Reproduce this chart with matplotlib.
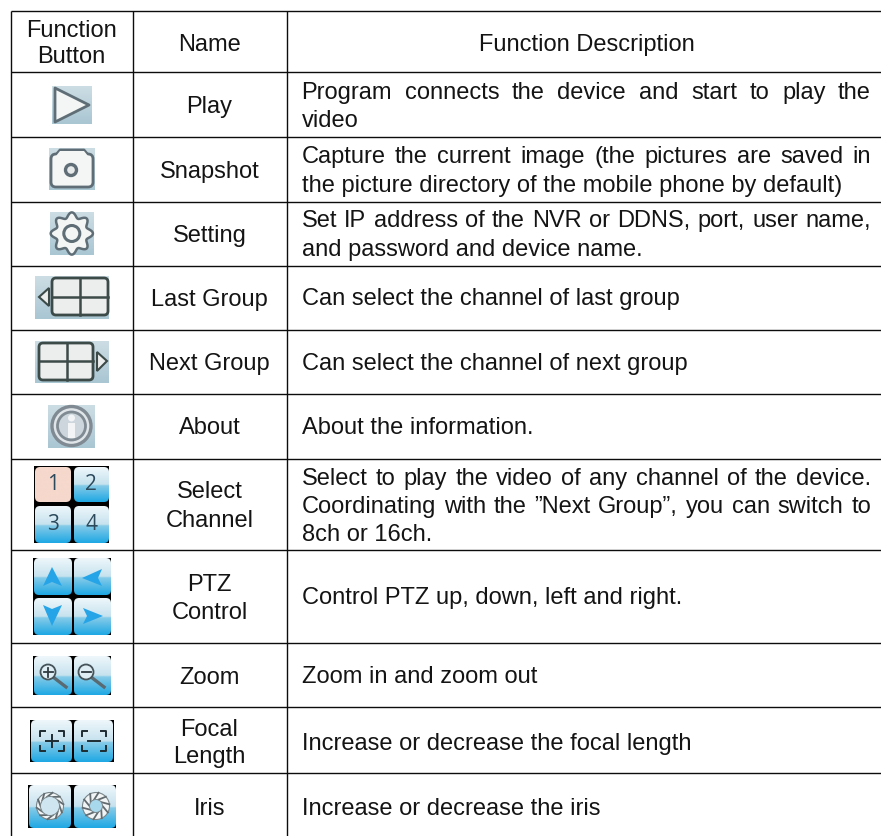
import numpy as np
import matplotlib
matplotlib.use('Agg')
import matplotlib.pyplot as plt
from matplotlib.patches import Rectangle, FancyBboxPatch, Polygon, Circle

plt.rcParams['font.family'] = ['Liberation Sans', 'DejaVu Sans']

W, H = 881, 836

# table contents
header = ['Function\nButton', 'Name', 'Function Description']
names = ['Play', 'Snapshot', 'Setting', 'Last Group', 'Next Group', 'About',
         'Select\nChannel', 'PTZ\nControl', 'Zoom', 'Focal\nLength', 'Iris']
descriptions = [
    ['Program connects the device and start to play the', 'video'],
    ['Capture the current image (the pictures are saved in', 'the picture directory of the mobile phone by default)'],
    ['Set IP address of the NVR or DDNS, port, user name,', 'and password and device name.'],
    ['Can select the channel of last group'],
    ['Can select the channel of next group'],
    ['About the information.'],
    ['Select to play the video of any channel of the device.', 'Coordinating with the \u201dNext Group\u201d, you can switch to', '8ch or 16ch.'],
    ['Control PTZ up, down, left and right.'],
    ['Zoom in and zoom out'],
    ['Increase or decrease the focal length'],
    ['Increase or decrease the iris'],
]

# layout, in pixels of the picture
col_x = [10.5, 132.5, 286.5]
row_y = [10.5, 72, 136.5, 201.5, 265.5, 329.5, 393.5, 458.5, 550, 642.5, 707, 773]
name_base = [[113], [177.7], [241.7], [305.7], [370], [434.3], [498, 526.7], [590.7, 619.3], [684], [735.7, 763], [815]]
desc_base = [[99, 127.3], [163.3, 191.7], [227.3, 255.7], [305.5], [370], [434], [485, 512.7, 540.7], [604.3], [683.3], [750], [815]]
text_l, text_r = 301.5, 871
fs = 17
tc = '#141414'

fig = plt.figure(figsize=(W / 100, H / 100), dpi=100)
ax = fig.add_axes([0, 0, 1, 1])
ax.set_xlim(0, W)
ax.set_ylim(H, 0)
ax.axis('off')

# no border on the right and at the bottom
for y in row_y:
    ax.plot([col_x[0], W], [y, y], color='#0c0c0c', lw=1.0, solid_capstyle='butt')
for x in col_x:
    ax.plot([x, x], [row_y[0], H], color='#0c0c0c', lw=1.0, solid_capstyle='butt')

ax.text(71.7, 36.7, 'Function', ha='center', va='baseline', fontsize=fs, color=tc)
ax.text(71.7, 63.3, 'Button', ha='center', va='baseline', fontsize=fs, color=tc)
ax.text(209.5, 50.7, header[1], ha='center', va='baseline', fontsize=fs, color=tc)
ax.text(586.5, 50.7, header[2], ha='center', va='baseline', fontsize=fs, color=tc)

r = fig.canvas.get_renderer()


def word_width(s):
    t = ax.text(0, 0, s, fontsize=fs)
    wd = t.get_window_extent(r).width
    t.remove()
    return wd


for i in range(len(names)):
    for line, yy in zip(names[i].split('\n'), name_base[i]):
        ax.text(209.5, yy, line, ha='center', va='baseline', fontsize=fs, color=tc)
    n = len(descriptions[i])
    for k, (line, yy) in enumerate(zip(descriptions[i], desc_base[i])):
        if k < n - 1:
            # justified, the last line of a cell is not
            words = line.split(' ')
            ws = [word_width(w) for w in words]
            gap = (text_r - text_l - sum(ws)) / (len(words) - 1)
            x = text_l
            for w, wd in zip(words, ws):
                ax.text(x, yy, w, ha='left', va='baseline', fontsize=fs, color=tc)
                x += wd + gap
        else:
            ax.text(text_l, yy, line, ha='left', va='baseline', fontsize=fs, color=tc)


def grad(x0, y0, x1, y1, stops, z=2.5, clip=None):
    pos = [s[0] for s in stops]
    cols = np.array([matplotlib.colors.to_rgb(s[1]) for s in stops])
    t = np.linspace(0, 1, 64)
    arr = np.stack([np.interp(t, pos, cols[:, c]) for c in range(3)], axis=1)[:, None, :]
    im = ax.imshow(arr, extent=(x0, x1, y1, y0), aspect='auto', zorder=z, interpolation='bilinear')
    if clip is not None:
        im.set_clip_path(clip)


def rrect(x0, y0, x1, y1, fc, ec, lw=1.5, rad=4, z=3):
    p = FancyBboxPatch((x0 + rad, y0 + rad), x1 - x0 - 2 * rad, y1 - y0 - 2 * rad,
                       boxstyle='round,pad=%f' % rad, fc=fc, ec=ec, lw=lw, zorder=z)
    ax.add_patch(p)
    return p


def bg(x0, y0, x1, y1):
    grad(x0, y0, x1, y1, [(0, '#cddde4'), (1, '#a9c6d3')], z=2)


def tile(x0, y0, x1, y1, plain=None):
    p = rrect(x0, y0, x1, y1, 'none', 'none', 0, 5, 3)
    if plain:
        grad(x0, y0, x1, y1, [(0, plain), (1, plain)], z=3, clip=p)
    else:
        grad(x0, y0, x1, y1, [(0, '#eef7fb'), (0.5, '#c6e2ee'), (0.53, '#86cbe8'), (1, '#1fa8e4')], z=3, clip=p)


edge = '#5f6e76'
dark = '#3c4a48'
white = '#f4f6f6'

# play
bg(52, 86, 92, 124)
ax.add_patch(Polygon([[55, 88], [89, 105], [55, 122]], closed=True, fc=white, ec=edge, lw=2, joinstyle='round', zorder=3))

# snapshot
bg(49, 148, 95, 190)
ax.add_patch(Polygon([[55, 156], [60, 150], [84, 150], [89, 156]], closed=True, fc=white, ec=edge, lw=2, joinstyle='round', zorder=3))
rrect(51, 154, 93, 187, white, edge, 2, 5, 3.1)
ax.add_patch(Polygon([[56, 156], [60, 151], [84, 151], [88, 156]], closed=True, fc=white, ec='none', zorder=3.2))
ax.add_patch(Circle((71, 170), 5.5, fc='#e6eaea', ec=edge, lw=2.4, zorder=4))

# setting
bg(50, 212, 94, 255)
th = np.linspace(0, 2 * np.pi, 241)
gr = 18.5 + 2.6 * np.cos(8 * th)
ax.add_patch(Polygon(np.c_[71.8 + gr * np.cos(th), 233.5 + gr * np.sin(th)], closed=True, fc=white, ec=edge, lw=1.8, zorder=3))
ax.add_patch(Circle((71.8, 233.5), 8, fc=white, ec=edge, lw=2.2, zorder=4))

# last group
bg(35, 276, 109, 319)
rrect(52, 278, 108, 315, '#eceeee', dark, 2, 4)
ax.plot([80, 80], [278, 315], color=dark, lw=1.8, zorder=4)
ax.plot([52, 108], [297, 297], color=dark, lw=1.8, zorder=4)
ax.add_patch(Polygon([[39, 297], [49, 288], [49, 306]], closed=True, fc='#eceeee', ec=dark, lw=1.5, zorder=4))

# next group
bg(35, 341, 109, 383)
rrect(39, 343, 93, 380, '#eceeee', dark, 2, 4)
ax.plot([67, 67], [343, 380], color=dark, lw=1.8, zorder=4)
ax.plot([39, 93], [361, 361], color=dark, lw=1.8, zorder=4)
ax.add_patch(Polygon([[107, 361], [97, 352], [97, 371]], closed=True, fc='#eceeee', ec=dark, lw=1.5, zorder=4))

# about
bg(48, 405, 95, 448)
ax.add_patch(Circle((71.5, 426), 19.5, fc='#dfe5e8', ec='#7f8a92', lw=2.4, zorder=3))
ax.add_patch(Circle((71.5, 426), 14, fc='#cdd6dc', ec='#7f8a92', lw=2, zorder=4))
ax.add_patch(Circle((71.5, 418), 3.5, fc='#f2f4f6', ec='none', zorder=5))
ax.add_patch(Rectangle((68, 423), 7, 15, fc='#f2f4f6', ec='none', zorder=5))

# select channel
ax.add_patch(Rectangle((34, 466), 75, 77, fc='black', zorder=2))
tile(35, 467, 71, 502, '#f6d8cc')
tile(74, 467, 109, 502)
tile(35, 506, 71, 543)
tile(74, 506, 109, 543)
for s, xx, yy in [('1', 53, 485), ('2', 91, 485), ('3', 53, 524), ('4', 91, 524)]:
    ax.text(xx, yy, s, ha='center', va='center', fontsize=15, color='#2c4a5c', family='Open Sans', zorder=5)

# ptz
ax.add_patch(Rectangle((33, 558), 78, 77, fc='black', zorder=2))
tile(34, 558, 72, 595)
tile(74, 558, 111, 595)
tile(34, 598, 72, 635)
tile(74, 598, 111, 635)
blue = '#26a4e8'
ax.add_patch(Polygon([[52, 567], [43, 586], [52, 582], [62, 586]], fc=blue, zorder=5))
ax.add_patch(Polygon([[82, 578], [102, 569], [98, 578], [102, 586]], fc=blue, zorder=5))
ax.add_patch(Polygon([[52, 626], [43, 605], [52, 609], [62, 605]], fc=blue, zorder=5))
ax.add_patch(Polygon([[103, 616], [83, 608], [87, 616], [83, 624]], fc=blue, zorder=5))

# zoom
ax.add_patch(Rectangle((33, 656), 78, 39, fc='black', zorder=2))
for x0, x1, cx, sym in [(34, 72, 48, '+'), (74, 111, 86, '-')]:
    tile(x0, 656, x1, 695)
    ax.plot([cx + 5, cx + 18], [677, 687], color='#5a6a72', lw=2.4, zorder=5)
    ax.add_patch(Circle((cx, 672), 7.5, fc='#dfeef4', ec='#46545a', lw=1.3, zorder=6))
    ax.plot([cx - 4.5, cx + 4.5], [672, 672], color='#2e3a40', lw=1.3, zorder=7)
    if sym == '+':
        ax.plot([cx, cx], [667.5, 676.5], color='#2e3a40', lw=1.3, zorder=7)

# focal length
ax.add_patch(Rectangle((30, 720), 84, 42, fc='black', zorder=2))
for x0, x1, cx, sym in [(31, 72, 52, '+'), (74, 113, 94, '-')]:
    tile(x0, 720, x1, 762)
    for sx in (-1, 1):
        for sy in (-1, 1):
            xc, yc = cx + sx * 12, 741 + sy * 10
            ax.plot([xc - sx * 5, xc, xc], [yc, yc, yc - sy * 5], color='#1e2c32', lw=1.4, zorder=5)
    ax.plot([cx - 6, cx + 6], [741, 741], color='#1e2c32', lw=1.4, zorder=5)
    if sym == '+':
        ax.plot([cx, cx], [735, 747], color='#1e2c32', lw=1.4, zorder=5)

# iris
ax.add_patch(Rectangle((28, 785), 88, 43, fc='black', zorder=2))
for x0, x1, cx, inner, clear in [(29, 71, 50, 9.5, '#cfe6f0'), (74, 116, 96, 6.5, '#a8d8ec')]:
    tile(x0, 785, x1, 828)
    ax.add_patch(Circle((cx, 806), 13.5, fc='#f2f5f5', ec='#7a868a', lw=0.8, zorder=5))
    for a in np.linspace(0, 2 * np.pi, 11)[:-1]:
        ax.plot([cx + inner * np.cos(a), cx + 13.5 * np.cos(a + 0.5)],
                [806 + inner * np.sin(a), 806 + 13.5 * np.sin(a + 0.5)],
                color='#626c70', lw=1.3, zorder=6)
    ax.add_patch(Circle((cx, 806), inner, fc=clear, ec='#7a868a', lw=0.7, zorder=7))

ax.set_xlim(0, W)
ax.set_ylim(H, 0)
fig.savefig('out.png', dpi=100)
